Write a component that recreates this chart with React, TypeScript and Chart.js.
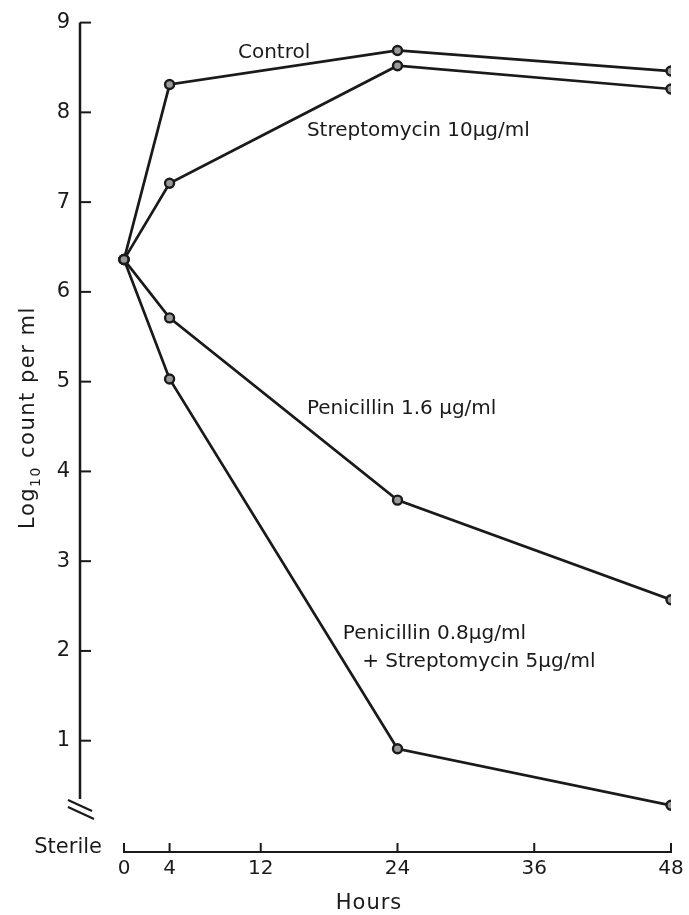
import React, { useEffect, useRef } from 'react';
import { Chart, registerables } from 'chart.js';

Chart.register(...registerables);

// ---- Data ----
const HOURS = [0, 4, 24, 48];
const CONTROL = [6.36, 8.31, 8.69, 8.46];
const STREPTOMYCIN_10 = [6.36, 7.21, 8.52, 8.26];
const PENICILLIN_1_6 = [6.36, 5.71, 3.68, 2.57];
const PEN_0_8_STREP_5 = [6.36, 5.03, 0.91, 0.28];

const X_TICKS = [0, 4, 12, 24, 36, 48];
const Y_TICKS = [1, 2, 3, 4, 5, 6, 7, 8, 9];

const X_MIN = -3.86;
const X_MAX = 48;
const Y_STERILE = -0.24;
const Y_MAX = 9;
const Y_AXIS_END = 0.35;

const SERIES_LABELS = [
  { text: 'Control', x: 10.0, y: 8.66 },
  { text: 'Streptomycin 10\u00b5g/ml', x: 16.05, y: 7.79 },
  { text: 'Penicillin 1.6 \u00b5g/ml', x: 16.05, y: 4.7 },
  { text: 'Penicillin 0.8\u00b5g/ml', x: 19.2, y: 2.19 },
  { text: '+ Streptomycin 5\u00b5g/ml', x: 20.9, y: 1.88 },
];

const INK = '#1a1a1a';
const FONT = '"DejaVu Sans", sans-serif';

function series(values: number[]) {
  return HOURS.map((h, i) => ({ x: h, y: values[i] }));
}

const decorations = {
  id: 'decorations',
  afterDraw(chart: any) {
    const { ctx } = chart;
    const xs = chart.scales.x;
    const ys = chart.scales.y;
    const ax = xs.getPixelForValue(X_MIN);
    const yTop = ys.getPixelForValue(Y_MAX);
    const yEnd = ys.getPixelForValue(Y_AXIS_END);
    const yBase = ys.getPixelForValue(Y_STERILE);
    ctx.save();
    ctx.strokeStyle = INK;
    ctx.fillStyle = INK;
    ctx.lineCap = 'butt';

    // y axis line
    ctx.lineWidth = 2.5;
    ctx.beginPath();
    ctx.moveTo(ax, yTop);
    ctx.lineTo(ax, yEnd);
    ctx.stroke();
    // y ticks (pointing inward)
    ctx.lineWidth = 2;
    Y_TICKS.forEach((v) => {
      const py = ys.getPixelForValue(v);
      ctx.beginPath();
      ctx.moveTo(ax, py);
      ctx.lineTo(ax + 11, py);
      ctx.stroke();
    });
    // axis break marks
    ctx.lineWidth = 2.2;
    ctx.beginPath();
    ctx.moveTo(ax - 12, yEnd + 1);
    ctx.lineTo(ax + 12, yEnd + 12);
    ctx.moveTo(ax - 12, yEnd + 8);
    ctx.lineTo(ax + 14, yEnd + 20);
    ctx.stroke();

    // x axis line (sterile level)
    const x0 = xs.getPixelForValue(X_TICKS[0]);
    const x1 = xs.getPixelForValue(X_TICKS[X_TICKS.length - 1]);
    ctx.lineWidth = 2;
    ctx.beginPath();
    ctx.moveTo(x0, yBase);
    ctx.lineTo(x1, yBase);
    ctx.stroke();
    X_TICKS.forEach((v) => {
      const px = xs.getPixelForValue(v);
      ctx.beginPath();
      ctx.moveTo(px, yBase + 1);
      ctx.lineTo(px, yBase - 9);
      ctx.stroke();
    });

    // "Sterile" label
    ctx.font = `21px ${FONT}`;
    ctx.textAlign = 'right';
    ctx.textBaseline = 'middle';
    ctx.fillText('Sterile', x0 - 22, yBase - 4);

    // "Hours" title
    ctx.save();
    (ctx as any).letterSpacing = '1px';
    ctx.font = `21px ${FONT}`;
    ctx.textAlign = 'center';
    ctx.textBaseline = 'middle';
    ctx.fillText('Hours', xs.getPixelForValue(21.5), yBase + 52);
    ctx.restore();

    // y title with subscript
    ctx.save();
    const cy = ys.getPixelForValue(4.6);
    ctx.translate(34, cy);
    ctx.rotate(-Math.PI / 2);
    ctx.textBaseline = 'alphabetic';
    ctx.textAlign = 'left';
    const main = `21px ${FONT}`;
    const sub = `14px ${FONT}`;
    (ctx as any).letterSpacing = '1.5px';
    ctx.font = main;
    const w1 = ctx.measureText('Log').width;
    ctx.font = sub;
    const w2 = ctx.measureText('10').width;
    ctx.font = main;
    const w3 = ctx.measureText(' count per ml').width;
    const total = w1 + w2 + w3;
    let px = -total / 2;
    ctx.font = main;
    ctx.fillText('Log', px, 0);
    px += w1;
    ctx.font = sub;
    ctx.fillText('10', px, 6);
    px += w2;
    ctx.font = main;
    ctx.fillText(' count per ml', px, 0);
    ctx.restore();

    // series labels
    ctx.font = `20px ${FONT}`;
    ctx.textAlign = 'left';
    ctx.textBaseline = 'middle';
    SERIES_LABELS.forEach((l) => {
      ctx.fillText(l.text, xs.getPixelForValue(l.x), ys.getPixelForValue(l.y));
    });
    ctx.restore();
  },
};

export default function App() {
  const canvasRef = useRef<HTMLCanvasElement | null>(null);

  useEffect(() => {
    const canvas = canvasRef.current;
    if (!canvas) return;
    const mk = (label: string, values: number[]) => ({
      label,
      data: series(values),
      borderColor: INK,
      borderWidth: 2.7,
      pointRadius: 4.5,
      pointBorderWidth: 2.4,
      pointBorderColor: INK,
      pointBackgroundColor: '#9a9a9a',
      tension: 0,
      fill: false,
    });
    const chart = new Chart(canvas, {
      type: 'line',
      data: {
        datasets: [
          mk('Control', CONTROL),
          mk('Streptomycin 10\u00b5g/ml', STREPTOMYCIN_10),
          mk('Penicillin 1.6 \u00b5g/ml', PENICILLIN_1_6),
          mk('Penicillin 0.8\u00b5g/ml + Streptomycin 5\u00b5g/ml', PEN_0_8_STREP_5),
        ],
      },
      options: {
        responsive: false,
        devicePixelRatio: 1,
        animation: false,
        layout: { padding: { top: 15, right: 18, left: 0, bottom: 0 } },
        plugins: {
          legend: { display: false },
          tooltip: { enabled: false },
        },
        scales: {
          x: {
            type: 'linear',
            min: X_MIN,
            max: X_MAX,
            afterBuildTicks: (s: any) => {
              s.ticks = X_TICKS.map((v) => ({ value: v }));
            },
            afterFit: (s: any) => {
              s.height = 63;
            },
            grid: { display: false, drawTicks: false },
            border: { display: false },
            ticks: {
              color: INK,
              font: { family: FONT, size: 20 },
              padding: 5,
              maxRotation: 0,
              autoSkip: false,
            },
          },
          y: {
            type: 'linear',
            min: Y_STERILE,
            max: Y_MAX,
            afterBuildTicks: (s: any) => {
              s.ticks = Y_TICKS.map((v) => ({ value: v }));
            },
            afterFit: (s: any) => {
              s.width = 80;
            },
            grid: { display: false, drawTicks: false },
            border: { display: false },
            ticks: {
              color: INK,
              font: { family: FONT, size: 21 },
              padding: 10,
              autoSkip: false,
            },
          },
        },
      },
      plugins: [decorations],
    });
    return () => chart.destroy();
  }, []);

  return (
    <div
      style={{
        position: 'fixed',
        left: 0,
        top: 0,
        width: 689,
        height: 915,
        background: '#ffffff',
      }}
    >
      <canvas ref={canvasRef} width={689} height={915} style={{ display: 'block' }} />
    </div>
  );
}
